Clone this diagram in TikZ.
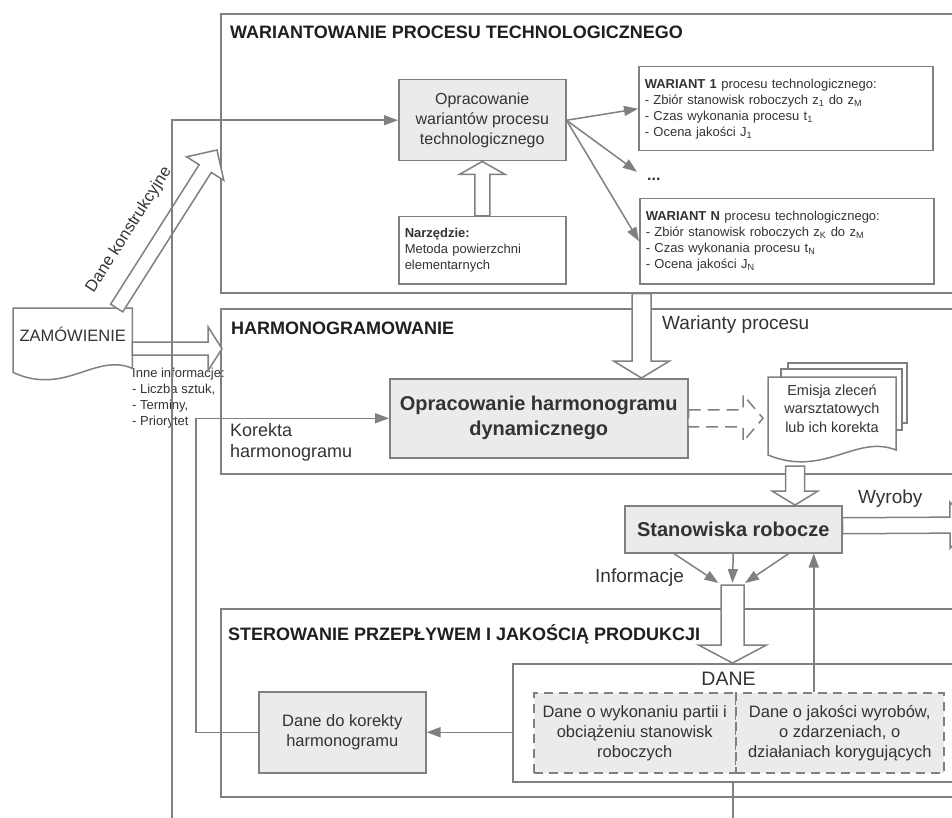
\documentclass[tikz,border=0pt]{standalone}
\usepackage{fontspec}
\setmainfont{Liberation Sans}
\usetikzlibrary{arrows.meta,calc}

\definecolor{linegray}{HTML}{808080}
\definecolor{boxgray}{HTML}{EBEBEB}
\definecolor{inkgray}{HTML}{333333}

\newcommand{\sz}[2]{\fontsize{#1}{#2}\selectfont}
\newcommand{\blockarrow}[6][]{%
  \path[blockarr,#1] let \p1=($(#3)-(#2)$), \n1={atan2(\y1,\x1)}, \n2={veclen(\x1,\y1)} in
    [shift={(#2)},rotate=\n1]
    (0pt,#4) -- ({\n2-#6},#4) -- ({\n2-#6},#5) -- (\n2,0pt) -- ({\n2-#6},-#5) -- ({\n2-#6},-#4) -- (0pt,-#4) -- cycle;}

\begin{document}
\begin{tikzpicture}[
      x=1pt, y=-1pt,
      panel/.style={draw=linegray, line width=1.6pt, fill=white, anchor=north west, inner sep=0pt},
      paneltitle/.style={anchor=base west, inner sep=0pt, text=black!88, font=\bfseries\sz{18}{20}},
      box/.style={draw=linegray, line width=1.5pt, fill=boxgray, anchor=north west, inner sep=3pt, align=center, text=inkgray},
      note/.style={draw=linegray, line width=1.5pt, fill=white, anchor=north west, inner sep=6pt, align=left, text=inkgray, font=\sz{13}{16}},
      databox/.style={box, dash pattern=on 9pt off 6pt},
      lbl/.style={inner sep=0pt, text=inkgray},
      link/.style={draw=linegray, line width=1.5pt},
      arr/.style={link, -{Triangle[length=14pt,width=10pt]}},
      blockarr/.style={draw=linegray, line width=1.5pt, fill=white, line join=miter}
    ]
    \useasboundingbox (0,0) rectangle (952,818);
    \clip (0,0) rectangle (952,818);

    \node[panel, minimum width=745pt, minimum height=279pt] (varpanel) at (220,13) {};
    \node[panel, minimum width=745pt, minimum height=165pt] (harmpanel) at (220,308) {};
    \node[panel, minimum width=745pt, minimum height=188pt] (sterpanel) at (220,608) {};
    \node[panel, minimum width=453pt, minimum height=118pt] (danepanel) at (512,663) {};

    \node[paneltitle] (vartitle) at (230,39) {WARIANTOWANIE PROCESU TECHNOLOGICZNEGO};
    \node[paneltitle] (harmtitle) at (231,334) {HARMONOGRAMOWANIE};
    \node[paneltitle] (stertitle) at (228,640) {STEROWANIE PRZEPŁYWEM I JAKOŚCIĄ PRODUKCJI};

    \node[box, minimum width=167pt, minimum height=81pt, font=\sz{16}{20}] (opvar) at (398,79) {Opracowanie\\wariantów procesu\\technologicznego};
    \node[note, text width=155pt, minimum height=67pt] (tool) at (398,216) {\textbf{Narzędzie:}\\Metoda powierzchni\\elementarnych};
    \node[note, text width=282pt, minimum height=84pt] (var1) at (638,66) {\textbf{WARIANT 1} procesu technologicznego:\\- Zbiór stanowisk roboczych z\textsubscript{1} do z\textsubscript{M}\\- Czas wykonania procesu t\textsubscript{1}\\- Ocena jakości J\textsubscript{1}};
    \node[note, text width=282pt, minimum height=85pt] (varN) at (639,198) {\textbf{WARIANT N} procesu technologicznego:\\- Zbiór stanowisk roboczych z\textsubscript{K} do z\textsubscript{M}\\- Czas wykonania procesu t\textsubscript{N}\\- Ocena jakości J\textsubscript{N}};
    \node[lbl, anchor=base west, font=\bfseries\sz{16}{16}] (dots) at (647,181) {...};

    \node[lbl, minimum width=119pt, minimum height=52pt, anchor=north west, font=\sz{16.5}{16.5}] (zam) at (13,308) {ZAMÓWIENIE};
    \draw[link] (zam.north west) -- (zam.north east) -- ([yshift=-8pt]zam.south east)
      .. controls ($(zam.south west)+(82,-8)$) and ($(zam.south west)+(52,36)$) .. ([yshift=-12pt]zam.south west) -- cycle;
    \node[lbl, anchor=north west, align=left, font=\sz{13}{16}] (inne) at (132,368) {Inne informacje:\\- Liczba sztuk,\\- Terminy,\\- Priorytet};
    \node[lbl, rotate=57.5, font=\sz{16.5}{16.5}] (konstrlbl) at (129,230) {Dane konstrukcyjne};

    \node[box, minimum width=298pt, minimum height=79pt, font=\bfseries\sz{20}{25}] (opharm) at (389,378) {Opracowanie harmonogramu\\dynamicznego};
    \node[lbl, anchor=north west, align=left, font=\sz{18}{21}] (korlbl) at (230,423) {Korekta\\harmonogramu};
    \node[lbl, anchor=base west, font=\sz{19}{19}] (warlbl) at (662,329) {Warianty procesu};

    \coordinate (emnw) at (768,377);
    \draw[link, fill=white] ($(emnw)+(20,-14)$) rectangle ($(emnw)+(139,46)$);
    \draw[link, fill=white] ($(emnw)+(13,-8)$) rectangle ($(emnw)+(134,53)$);
    \draw[link, fill=white] (emnw) -- ($(emnw)+(128,0)$) -- ($(emnw)+(128,73)$)
      .. controls ($(emnw)+(88,57)$) and ($(emnw)+(56,101)$) .. ($(emnw)+(0,78)$) -- cycle;
    \node[lbl, align=center, font=\sz{14.5}{18.5}] (emisja) at ($(emnw)+(64,31.5)$) {Emisja zleceń\\warsztatowych\\lub ich korekta};

    \node[box, minimum width=217pt, minimum height=47pt, font=\bfseries\sz{20}{20}] (stan) at (624,505) {Stanowiska robocze};
    \node[lbl, anchor=base west, font=\sz{19}{19}] (wyrlbl) at (858,503) {Wyroby};
    \node[lbl, anchor=base west, font=\sz{19}{19}] (inflbl) at (595,582) {Informacje};

    \node[box, minimum width=167pt, minimum height=81pt, font=\sz{16.5}{20}] (korbox) at (258,691) {Dane do korekty\\harmonogramu};
    \node[lbl, font=\sz{19.5}{19.5}] (danelbl) at (728.5,679) {DANE};
    \node[databox, minimum width=202pt, minimum height=80pt, font=\sz{16.5}{20}] (dane1) at (533,692) {Dane o wykonaniu partii i\\obciążeniu stanowisk\\roboczych};
    \node[databox, minimum width=208pt, minimum height=80pt, font=\sz{16.5}{20}] (dane2) at (735,692) {Dane o jakości wyrobów,\\o zdarzeniach, o\\działaniach korygujących};

    \coordinate (feedin) at (172,818);
    \coordinate (loopbot) at (733,818);
    \coordinate (danetop) at (732.5,585);
    \coordinate (warx) at (641.5,0);
    \coordinate (warout) at (warx |- varpanel.south);
    \coordinate (warin) at (warx |- opharm.north);
    \coordinate (konstrfoot) at ([xshift=44pt]zam.north);
    \coordinate (konstrtip) at (217,150);
    \coordinate (zamout) at ([yshift=-14.5pt]zam.east);
    \coordinate[xshift=2pt] (harmin) at (harmpanel.west |- zamout);
    \coordinate[xshift=-5pt] (dashin) at (opharm.east -| emnw);
    \coordinate (emout) at ($(emnw)+(27,89)$);
    \coordinate (wyrout) at ([yshift=3.5pt]stan.east);
    \coordinate (wyrend) at (972,525);

    \draw[arr] (opvar.east) -- (var1.west);
    \draw[arr] (opvar.east) -- ([xshift=-10pt,yshift=8pt]dots.west);
    \draw[arr] (opvar.east) -- (varN.west);
    \draw[arr] (danepanel.west |- korbox.east) -- (korbox.east);
    \draw[link] (loopbot |- danepanel.south) -- (loopbot);
    \draw[arr] ([xshift=-26pt]dane2.north) -- ([xshift=-26pt]dane2.north |- stan.south);
    \draw[arr] ([xshift=-59.5pt]stan.south) -- ([xshift=-14pt,yshift=2pt]danetop);
    \draw[arr] (stan.south) -- ([yshift=2pt]danetop);
    \draw[arr] ([xshift=55.5pt]stan.south) -- ([xshift=12.5pt,yshift=2pt]danetop);

    \blockarrow{konstrfoot}{konstrtip}{7.2pt}{22pt}{22pt}
    \blockarrow{zamout}{harmin}{6.5pt}{22pt}{14pt}
    \blockarrow{tool.north}{opvar.south}{7.5pt}{23pt}{13pt}
    \blockarrow{warout}{warin}{9.5pt}{28pt}{17pt}
    \blockarrow[dash pattern=on 12pt off 7pt]{opharm.east}{dashin}{8.5pt}{23.5pt}{20pt}
    \blockarrow{emout}{emout |- stan.north}{9.5pt}{23pt}{14pt}
    \blockarrow{wyrout}{wyrend}{8pt}{23pt}{22pt}
    \blockarrow{danetop}{danetop |- danepanel.north}{11.5pt}{34pt}{18pt}

    \draw[arr] (feedin) |- (opvar.west);
    \draw[arr] (korbox.west) -- ++(-62,0) |- (opharm.west);
  \end{tikzpicture}
\end{document}
